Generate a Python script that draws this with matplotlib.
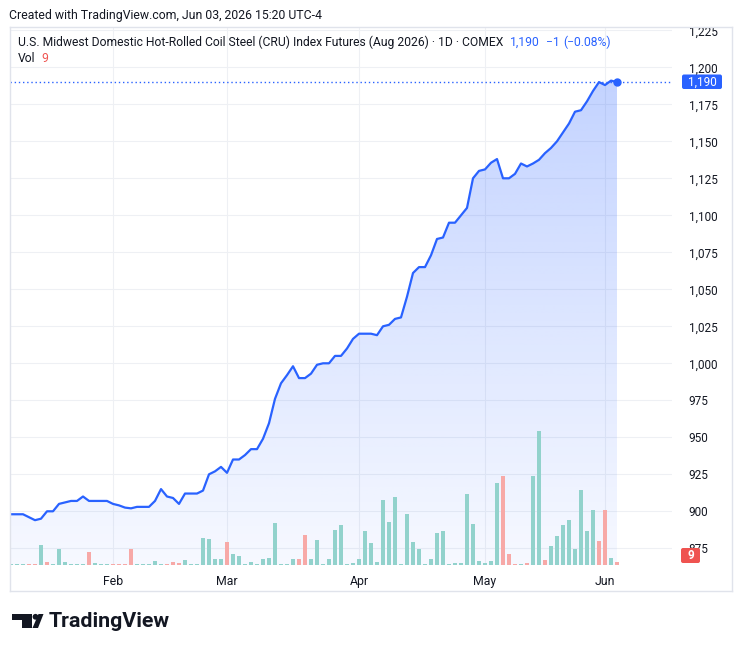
import numpy as np
import matplotlib.pyplot as plt
from matplotlib.patches import Polygon, Rectangle, FancyBboxPatch, Circle
from matplotlib.colors import to_rgb

W, H = 742, 652

# daily settlement, one value per trading day (Jan 8 2026 .. Jun 3 2026)
close = [898, 898, 898, 896, 894, 895, 900, 900, 905, 906,
         907, 907, 910, 907, 907, 907, 907, 905, 904, 902.5,
         902, 903, 903, 903, 907, 915, 910, 909, 905, 912,
         912, 912, 914, 925, 927, 930, 926, 935, 935, 938,
         942, 942, 949, 959.5, 976, 986.5, 992, 998, 990, 990,
         993, 999, 1000, 1000, 1005, 1005, 1010, 1016.5, 1020, 1020,
         1020, 1019, 1025, 1026, 1030, 1031, 1045, 1061, 1065, 1065,
         1073, 1084, 1085, 1095, 1095, 1100, 1105, 1125, 1130, 1131,
         1135.5, 1138, 1125, 1125, 1128, 1135, 1133, 1135, 1137.5, 1142,
         1145.5, 1150, 1156, 1162, 1170, 1171, 1177, 1184, 1190, 1188,
         1191, 1190]

volume = [3, 3, 3, 3, 3, 60, 9, 3, 48, 9,
          3, 3, 3, 39, 6, 3, 3, 3, 3, 3,
          48, 3, 3, 3, 12, 3, 3, 9, 6, 15,
          3, 3, 81, 78, 18, 18, 69, 33, 27, 3,
          9, 3, 18, 21, 126, 3, 3, 18, 18, 90,
          18, 75, 3, 18, 105, 120, 3, 6, 18, 102,
          66, 9, 195, 129, 204, 3, 153, 69, 48, 3,
          18, 96, 102, 3, 6, 6, 213, 123, 12, 6,
          12, 246, 267, 33, 3, 3, 6, 267, 402, 15,
          57, 87, 120, 135, 48, 225, 102, 165, 72, 165,
          21, 9]

# bars where close < open (drawn red)
down_days = [3, 4, 6, 13, 17, 18, 19, 20, 26, 27, 28, 36, 48, 49,
             82, 83, 84, 86, 89, 98, 99, 101]

month_labels = ["Feb", "Mar", "Apr", "May", "Jun"]
month_idx = [17, 36, 58, 79, 99]
price_ticks = list(range(875, 1226, 25))

BLUE = "#2962ff"
TXT = "#131722"
GRID = "#eef0f4"
FRAME = "#e0e3eb"
VOL_UP = "#92d2cc"
VOL_DN = "#f7a9a7"
RED = "#ef5350"
FONT = "Roboto"


def fx(px):
    return px / W


def fy(py):
    return 1 - py / H


fig = plt.figure(figsize=(W / 100, H / 100), dpi=100)
fig.patch.set_facecolor("white")

# main price pane
top, bot, left, right = 27, 565, 10, 672
ax = fig.add_axes([fx(left), fy(bot), (right - left) / W, (bot - top) / H])
ax.set_facecolor("white")

ppu = 1.48  # px per price unit
ymin = 875 - (bot - 548.3) / ppu
ymax = 875 + (548.3 - top) / ppu
ax.set_ylim(ymin, ymax)
ax.set_xlim((left - 11) / 6, (right - 11) / 6)

x = np.arange(len(close))

# grid
for t in price_ticks:
    ax.axhline(t, color=GRID, lw=0.8, zorder=0)
for m in month_idx:
    ax.axvline(m, color=GRID, lw=0.8, zorder=0)

# gradient area under the line
verts = [(x[0], ymin)] + list(zip(x, close)) + [(x[-1], ymin)]
poly = Polygon(verts, closed=True, facecolor="none", edgecolor="none")
ax.add_patch(poly)
grad = np.zeros((256, 1, 4))
grad[..., :3] = to_rgb(BLUE)
grad[..., 3] = np.linspace(0.28, 0.04, 256)[:, None]
im = ax.imshow(grad, extent=[x[0], x[-1], ymin, max(close)], aspect="auto",
               origin="upper", zorder=1, interpolation="bilinear")
im.set_clip_path(poly)

# volume bars (pane height = 1620 volume units)
vol_k = (ymax - ymin) / 1620
colors = [VOL_DN if i in down_days else VOL_UP for i in range(len(volume))]
ax.bar(x, np.array(volume) * vol_k, bottom=ymin, width=0.8, color=colors,
       zorder=2, linewidth=0)

# price line
ax.plot(x, close, color=BLUE, lw=1.6, zorder=4, solid_joinstyle="round")
ax.plot(x[-1], close[-1], "o", color=BLUE, ms=5, zorder=5)
ax.axhline(close[-1], color=BLUE, lw=1, ls=(0, (1, 2)), zorder=3)

for s in ax.spines.values():
    s.set_visible(False)
ax.yaxis.tick_right()
ax.set_yticks(price_ticks)
ax.set_yticklabels([f"{t:,}" for t in price_ticks], fontsize=8.5,
                   color=TXT, family=FONT)
ax.tick_params(axis="y", length=0, pad=12)
ax.set_xticks(month_idx)
ax.set_xticklabels(month_labels, fontsize=8.8, color=TXT, family=FONT)
ax.tick_params(axis="x", length=0, pad=7)

# overlay in pixel coordinates
ov = fig.add_axes([0, 0, 1, 1])
ov.set_xlim(0, W)
ov.set_ylim(H, 0)
ov.axis("off")

# frame
ov.plot([10, 732], [27, 27], color=FRAME, lw=1)
ov.plot([10, 732], [591, 591], color=FRAME, lw=1)
ov.plot([10, 10], [27, 591], color=FRAME, lw=1)
ov.plot([732, 732], [27, 591], color=FRAME, lw=1)

r = fig.canvas.get_renderer()


def chain(x0, y0, parts, size):
    for s, c, gap in parts:
        t = ov.text(x0, y0, s, color=c, fontsize=size, va="center",
                    ha="left", family=FONT)
        bb = t.get_window_extent(renderer=r)
        x0 = bb.x1 + gap


chain(9, 15, [("Created with TradingView.com, Jun 03, 2026 15:20 UTC-4", TXT, 0)], 8.85)
chain(18, 42, [("U.S. Midwest Domestic Hot-Rolled Coil Steel (CRU) Index Futures (Aug 2026) \u00b7 1D \u00b7 COMEX", TXT, 7),
               ("1,190", BLUE, 6), ("\u22121", BLUE, 3), ("(\u22120.08%)", BLUE, 0)], 8.7)
chain(18, 59, [("Vol", TXT, 6), ("9", RED, 0)], 8.7)

# price / volume labels on the scale
ov.add_patch(FancyBboxPatch((682, 74.5), 40, 14.5, boxstyle="round,pad=0,rounding_size=2",
                            facecolor=BLUE, edgecolor="none", zorder=5))
ov.text(702, 82, "1,190", color="white", fontsize=8.5, ha="center", va="center",
        family=FONT, zorder=6)
ov.add_patch(FancyBboxPatch((681, 548), 19, 15, boxstyle="round,pad=0,rounding_size=2",
                            facecolor=RED, edgecolor="none", zorder=5))
ov.text(690.5, 555.5, "9", color="white", fontsize=8.5, ha="center", va="center",
        family=FONT, weight="bold", zorder=6)

# TradingView logo
LOGO = "#131722"
ov.add_patch(Rectangle((12, 614), 20, 5.5, facecolor=LOGO, edgecolor="none"))
ov.add_patch(Rectangle((21.5, 614), 10.5, 14, facecolor=LOGO, edgecolor="none"))
ov.add_patch(Circle((35.5, 616.8), 2.9, facecolor=LOGO, edgecolor="none"))
ov.add_patch(Polygon([(38.5, 614), (43.5, 614), (38, 628), (32.5, 628)],
                     closed=True, facecolor=LOGO, edgecolor="none"))
ov.text(49, 621.5, "TradingView", color=LOGO, fontsize=15.4, weight="bold",
        ha="left", va="center", family=FONT)

fig.savefig("out.png", dpi=100, facecolor="white")
